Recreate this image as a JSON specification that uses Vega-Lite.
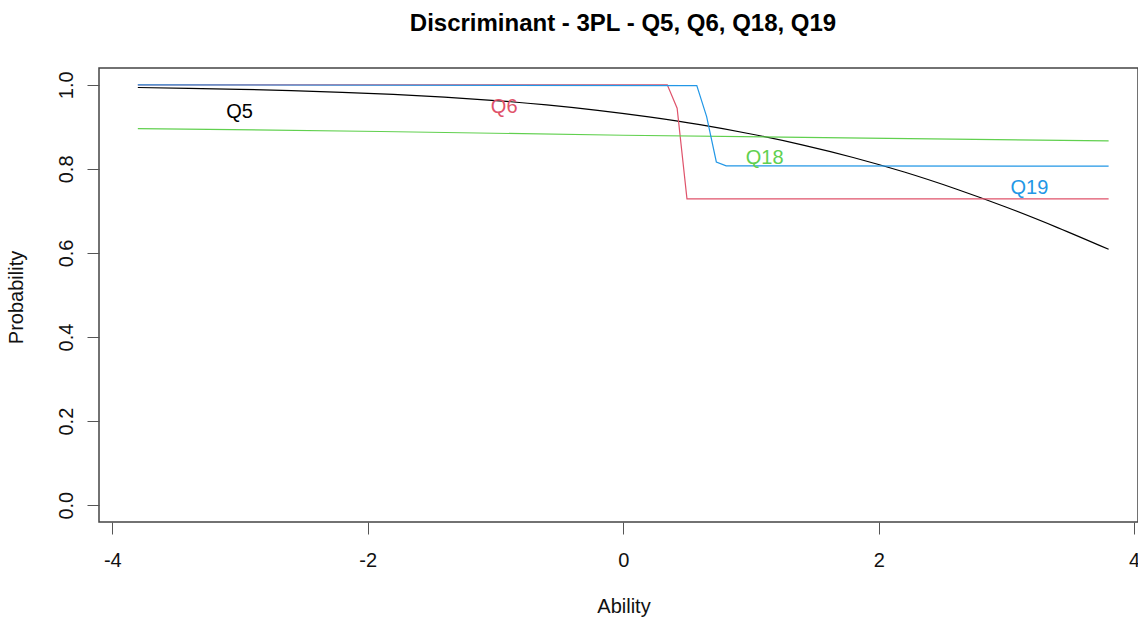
{
  "$schema": "https://vega.github.io/schema/vega-lite/v6.json",
  "autosize": "none",
  "width": 1039,
  "height": 454,
  "padding": {"left": 99, "top": 68, "right": 0, "bottom": 96},
  "background": "white",
  "config": {
    "font": "Liberation Sans",
    "view": {"stroke": "#444", "strokeWidth": 1.5}
  },
  "title": {
    "text": "Discriminant - 3PL - Q5, Q6, Q18, Q19",
    "font": "Liberation Sans",
    "fontSize": 24,
    "fontWeight": "bold",
    "color": "#000",
    "anchor": "middle",
    "frame": "group",
    "baseline": "alphabetic",
    "offset": 13,
    "dx": 4.5
  },
  "datasets": {
    "curves": [
      {"item": "Q5", "ability": -3.8, "p": 0.9936},
      {"item": "Q5", "ability": -3.4, "p": 0.9917},
      {"item": "Q5", "ability": -3.0, "p": 0.9893},
      {"item": "Q5", "ability": -2.6, "p": 0.9862},
      {"item": "Q5", "ability": -2.2, "p": 0.9822},
      {"item": "Q5", "ability": -1.8, "p": 0.9772},
      {"item": "Q5", "ability": -1.4, "p": 0.9707},
      {"item": "Q5", "ability": -1.0, "p": 0.9626},
      {"item": "Q5", "ability": -0.6, "p": 0.9522},
      {"item": "Q5", "ability": -0.2, "p": 0.9392},
      {"item": "Q5", "ability": 0.2, "p": 0.9236},
      {"item": "Q5", "ability": 0.6, "p": 0.9052},
      {"item": "Q5", "ability": 1.0, "p": 0.883},
      {"item": "Q5", "ability": 1.4, "p": 0.8572},
      {"item": "Q5", "ability": 1.8, "p": 0.8272},
      {"item": "Q5", "ability": 2.2, "p": 0.7925},
      {"item": "Q5", "ability": 2.6, "p": 0.7528},
      {"item": "Q5", "ability": 3.0, "p": 0.7087},
      {"item": "Q5", "ability": 3.4, "p": 0.6604},
      {"item": "Q5", "ability": 3.8, "p": 0.6087},
      {"item": "Q6", "ability": -3.8, "p": 1.0},
      {"item": "Q6", "ability": 0.345, "p": 1.0},
      {"item": "Q6", "ability": 0.422, "p": 0.9445},
      {"item": "Q6", "ability": 0.499, "p": 0.7286},
      {"item": "Q6", "ability": 3.8, "p": 0.7286},
      {"item": "Q18", "ability": -3.8, "p": 0.896},
      {"item": "Q18", "ability": -1.9, "p": 0.889},
      {"item": "Q18", "ability": 0.0, "p": 0.88},
      {"item": "Q18", "ability": 1.9, "p": 0.873},
      {"item": "Q18", "ability": 3.8, "p": 0.8665},
      {"item": "Q19", "ability": -3.8, "p": 1.0},
      {"item": "Q19", "ability": 0.576, "p": 0.998},
      {"item": "Q19", "ability": 0.653, "p": 0.9245},
      {"item": "Q19", "ability": 0.729, "p": 0.8165},
      {"item": "Q19", "ability": 0.806, "p": 0.8072},
      {"item": "Q19", "ability": 3.8, "p": 0.8065}
    ],
    "labels": [
      {"item": "Q5", "ability": -3.003, "p": 0.9345},
      {"item": "Q6", "ability": -0.932, "p": 0.947},
      {"item": "Q18", "ability": 1.107, "p": 0.825},
      {"item": "Q19", "ability": 3.18, "p": 0.755}
    ]
  },
  "encoding": {
    "x": {
      "field": "ability",
      "type": "quantitative",
      "scale": {"domain": [-4.104, 4.03], "nice": false, "zero": false},
      "axis": {
        "title": "Ability",
        "values": [-4, -2, 0, 2, 4],
        "labelExpr": "'' + datum.value",
        "grid": false,
        "domain": false,
        "tickSize": 12,
        "tickColor": "#555",
        "tickWidth": 1,
        "labelFontSize": 20,
        "labelColor": "#111",
        "labelBaseline": "alphabetic",
        "labelPadding": 32,
        "labelFlush": false,
        "titleFontSize": 20,
        "titleFontWeight": "normal",
        "titleColor": "#111",
        "titleBaseline": "alphabetic",
        "titleX": 524.5,
        "titleY": 90
      }
    },
    "y": {
      "field": "p",
      "type": "quantitative",
      "scale": {"domain": [-0.04, 1.04], "nice": false, "zero": false},
      "axis": {
        "title": "Probability",
        "values": [0, 0.2, 0.4, 0.6, 0.8, 1.0],
        "format": ".1f",
        "grid": false,
        "domain": false,
        "tickSize": 12,
        "tickColor": "#555",
        "tickWidth": 1,
        "labelFontSize": 20,
        "labelColor": "#111",
        "labelAngle": -90,
        "labelAlign": "center",
        "labelBaseline": "alphabetic",
        "labelPadding": 15,
        "labelFlush": false,
        "titleFontSize": 20,
        "titleFontWeight": "normal",
        "titleColor": "#111",
        "titleAngle": -90,
        "titleAlign": "center",
        "titleBaseline": "alphabetic",
        "titleX": -77,
        "titleY": 229
      }
    },
    "color": {
      "field": "item",
      "type": "nominal",
      "scale": {
        "domain": ["Q5", "Q6", "Q18", "Q19"],
        "range": ["#000000", "#DF536B", "#61D04F", "#2297E6"]
      },
      "legend": null
    }
  },
  "layer": [
    {
      "data": {"name": "curves"},
      "transform": [{"filter": "datum.item === 'Q5'"}],
      "mark": {"type": "line", "interpolate": "monotone", "strokeWidth": 1.2}
    },
    {
      "data": {"name": "curves"},
      "transform": [{"filter": "datum.item === 'Q6'"}],
      "mark": {"type": "line", "strokeWidth": 1.2}
    },
    {
      "data": {"name": "curves"},
      "transform": [{"filter": "datum.item === 'Q18'"}],
      "mark": {"type": "line", "strokeWidth": 1.2}
    },
    {
      "data": {"name": "curves"},
      "transform": [{"filter": "datum.item === 'Q19'"}],
      "mark": {"type": "line", "strokeWidth": 1.2}
    },
    {
      "data": {"name": "labels"},
      "mark": {"type": "text", "fontSize": 20, "align": "center", "baseline": "middle", "font": "Liberation Sans"},
      "encoding": {"text": {"field": "item"}}
    }
  ]
}
